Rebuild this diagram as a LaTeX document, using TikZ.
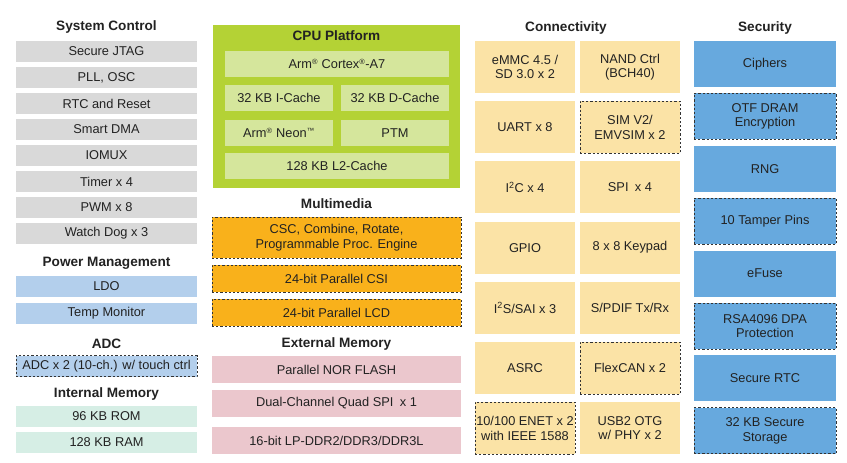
\documentclass[tikz,border=0pt]{standalone}
\usepackage{fontspec}
\setmainfont{Liberation Sans}
\usepackage{tikz}
\usetikzlibrary{positioning}
\definecolor{txtdark}{HTML}{222222}
\definecolor{sysgrey}{HTML}{D9D9D9}
\definecolor{pwrblue}{HTML}{B3CFEC}
\definecolor{memmint}{HTML}{D6EEE5}
\definecolor{cpugreen}{HTML}{B4D235}
\definecolor{cpuinner}{HTML}{D5E69C}
\definecolor{mmorange}{HTML}{F9B11B}
\definecolor{extpink}{HTML}{EBC7CD}
\definecolor{conyellow}{HTML}{FBE3A6}
\definecolor{secblue}{HTML}{67A9DE}
\definecolor{dashgrey}{HTML}{333333}
\tikzset{
  blk/.style={rectangle, inner sep=0pt, align=center, text=txtdark,
    font=\fontsize{12.8}{14.5}\selectfont},
  ttl/.style={inner sep=0pt, text=txtdark, font=\fontsize{13.6}{15}\selectfont\bfseries},
  dsh/.style={draw=dashgrey, dash pattern=on 2.2pt off 2pt, line width=0.9pt},
  sysbox/.style={blk, fill=sysgrey, minimum width=181pt, minimum height=21pt},
  pwrbox/.style={blk, fill=pwrblue, minimum width=181pt, minimum height=21pt},
  membox/.style={blk, fill=memmint, minimum width=181pt, minimum height=21pt},
  cpuwide/.style={blk, fill=cpuinner, minimum width=224pt, minimum height=26pt},
  cpuhalf/.style={blk, fill=cpuinner, minimum width=108pt, minimum height=26pt},
  mmbox/.style={blk, fill=mmorange, dsh, minimum width=249pt, minimum height=27pt},
  extbox/.style={blk, fill=extpink, minimum width=249pt, minimum height=27pt},
  conbox/.style={blk, fill=conyellow, minimum width=100pt, minimum height=52pt},
  secbox/.style={blk, fill=secblue, minimum width=142pt, minimum height=46pt},
}
\newcommand{\regmark}{\textsuperscript{\fontsize{7.5}{7.5}\selectfont\textregistered}}
\newcommand{\tmmark}{\textsuperscript{\fontsize{7.5}{7.5}\selectfont\texttrademark}}

\begin{document}
\begin{tikzpicture}[x=1pt,y=-1pt]
      \useasboundingbox[fill=white] (0,0) rectangle (847,463);

      \node[ttl] (sysT) at (106.5,27) {System Control};
      \node[sysbox] (jtag) at (106.5,51.5) {Secure JTAG};
      \node[sysbox] (pll) at (106.5,77.5) {PLL, OSC};
      \node[sysbox] (rtc) at (106.5,103.5) {RTC and Reset};
      \node[sysbox] (sdma) at (106.5,129.5) {Smart DMA};
      \node[sysbox] (iomux) at (106.5,155.5) {IOMUX};
      \node[sysbox] (timer) at (106.5,181.5) {Timer x 4};
      \node[sysbox] (pwm) at (106.5,207.5) {PWM x 8};
      \node[sysbox] (wdog) at (106.5,233.5) {Watch Dog x 3};

      \node[ttl] (pwrT) at (106.5,263) {Power Management};
      \node[pwrbox] (ldo) at (106.5,286.5) {LDO};
      \node[pwrbox] (temp) at (106.5,313) {Temp Monitor};

      \node[ttl] (adcT) at (106.5,344) {ADC};
      \node[pwrbox, dsh] (adc) at (106.5,366) {ADC x 2 (10-ch.) w/ touch ctrl};

      \node[ttl] (imemT) at (106.5,394) {Internal Memory};
      \node[membox] (rom) at (106.5,416) {96 KB ROM};
      \node[membox] (ram) at (106.5,442) {128 KB RAM};

      \fill[cpugreen] (213,25) rectangle (460,188);
      \node[ttl] (cpuT) at (336.5,36) {CPU Platform};
      \node[cpuwide] (a7) at (337,64) {Arm\regmark{} Cortex\regmark-A7};
      \node[cpuhalf] (icache) at (279,97.5) {32 KB I-Cache};
      \node[cpuhalf] (dcache) at (395,97.5) {32 KB D-Cache};
      \node[cpuhalf] (neon) at (279,133) {Arm\regmark{} Neon\tmmark};
      \node[cpuhalf] (ptm) at (395,133) {PTM};
      \node[cpuwide] (l2) at (337,166) {128 KB L2-Cache};

      \node[ttl] (mmT) at (336.5,204) {Multimedia};
      \node[mmbox, minimum height=41pt] (pxp) at (336.5,237.5) {CSC, Combine, Rotate,\\Programmable Proc. Engine};
      \node[mmbox] (csi) at (336.5,278.5) {24-bit Parallel CSI};
      \node[mmbox] (lcd) at (336.5,312.5) {24-bit Parallel LCD};

      \node[ttl] (extT) at (336.5,344) {External Memory};
      \node[extbox] (nor) at (336.5,369.5) {Parallel NOR FLASH};
      \node[extbox] (qspi) at (336.5,403.5) {Dual-Channel Quad SPI\enspace x 1};
      \node[extbox] (ddr) at (336.5,440.5) {16-bit LP-DDR2/DDR3/DDR3L};

      \node[ttl] (conT) at (566,28) {Connectivity};
      \node[conbox] (emmc) at (525,67) {eMMC 4.5 /\\SD 3.0 x 2};
      \node[conbox] (nand) at (630,67) {NAND Ctrl\\(BCH40)};
      \node[conbox] (uart) at (525,127.2) {UART x 8};
      \node[conbox, dsh] (sim) at (630,127.2) {SIM V2/\\EMVSIM x 2};
      \node[conbox] (iic) at (525,187.4) {I\textsuperscript{2}C x 4};
      \node[conbox] (spi) at (630,187.4) {SPI\enspace x 4};
      \node[conbox] (gpio) at (525,247.6) {GPIO};
      \node[conbox] (kpp) at (630,247.6) {8 x 8 Keypad};
      \node[conbox] (sai) at (525,307.8) {I\textsuperscript{2}S/SAI x 3};
      \node[conbox] (spdif) at (630,307.8) {S/PDIF Tx/Rx};
      \node[conbox] (asrc) at (525,368) {ASRC};
      \node[conbox, dsh] (can) at (630,368) {FlexCAN x 2};
      \node[conbox, dsh] (enet) at (525,428.2) {10/100 ENET x 2\\with IEEE 1588};
      \node[conbox] (usb) at (630,428.2) {USB2 OTG\\w/ PHY x 2};

      \node[ttl] (secT) at (765,28) {Security};
      \node[secbox] (ciph) at (765,64) {Ciphers};
      \node[secbox, dsh] (otf) at (765,116.4) {OTF DRAM\\Encryption};
      \node[secbox] (rng) at (765,168.8) {RNG};
      \node[secbox, dsh] (tamp) at (765,221.2) {10 Tamper Pins};
      \node[secbox] (efuse) at (765,273.6) {eFuse};
      \node[secbox, dsh] (rsa) at (765,326) {RSA4096 DPA\\Protection};
      \node[secbox] (srtc) at (765,378.4) {Secure RTC};
      \node[secbox, dsh] (snvs) at (765,430.8) {32 KB Secure\\Storage};
    \end{tikzpicture}
\end{document}
